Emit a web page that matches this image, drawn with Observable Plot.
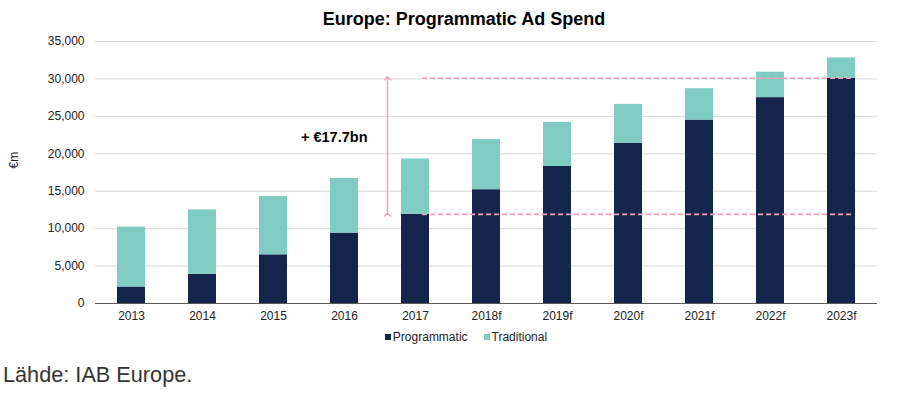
<!DOCTYPE html>
<html>
<head>
<meta charset="utf-8">
<script src="https://cdn.jsdelivr.net/npm/d3@7"></script>
<script src="https://cdn.jsdelivr.net/npm/@observablehq/plot@0.6"></script>
<style>
  body { margin: 0; background: #fff; font-family: "Liberation Sans", Arial, sans-serif; }
  #wrap { width: 900px; }
  .title { height: 30px; box-sizing: border-box; padding-top: 10px; padding-left: 28px; text-align: center;
           font-weight: bold; font-size: 18px; line-height: 19px; color: #000; }
  .legend { height: 14px; line-height: 14px; font-size: 12px; color: #222; text-align: center; padding-left: 32px; }
  .legend span.sw { display: inline-block; width: 6px; height: 6px; margin-right: 2px; vertical-align: 1px; }
  .legend span.item { margin: 0 8px; }
  .source { margin-top: 19px; padding-left: 3px; font-size: 21.7px; line-height: 24px; color: #333; }
</style>
</head>
<body>
<div id="wrap">
  <div class="title">Europe: Programmatic Ad Spend</div>
  <div id="chart"></div>
  <div class="legend" id="legend"></div>
  <div class="source">Lähde: IAB Europe.</div>
</div>
<script>
const years = ["2013", "2014", "2015", "2016", "2017", "2018f", "2019f", "2020f", "2021f", "2022f", "2023f"];
const programmatic = [2200, 3900, 6500, 9400, 11900, 15200, 18300, 21400, 24500, 27500, 30100];
const traditional = [8000, 8600, 7800, 7300, 7400, 6700, 5900, 5200, 4200, 3400, 2700];
const seriesNames = ["Programmatic", "Traditional"];
const seriesColors = ["#13254b", "#80ccc3"];
const yTicks = [0, 5000, 10000, 15000, 20000, 25000, 30000, 35000];
const annotationLabel = "+ €17.7bn";
const annotationFrom = "2017";
const annotationTo = "2023f";
const annotationTextY = 22200;

const rows = [];
years.forEach((year, i) => {
  rows.push({year, series: seriesNames[0], value: programmatic[i]});
  rows.push({year, series: seriesNames[1], value: traditional[i]});
});

const lowLevel = programmatic[years.indexOf(annotationFrom)];
const highLevel = programmatic[years.indexOf(annotationTo)];
const refLines = [lowLevel, highLevel].map(v => ({y: v, from: annotationFrom, to: annotationTo}));
const arrowData = [{x: annotationFrom, y1: lowLevel, y2: highLevel}];
const labelData = [{x: annotationFrom, y: annotationTextY, text: annotationLabel}];

const chart = Plot.plot({
  width: 900,
  height: 300,
  marginTop: 11,
  marginBottom: 27,
  marginLeft: 95,
  marginRight: 23,
  style: {fontFamily: "Liberation Sans, Arial, sans-serif", fontSize: "12px", color: "#222", background: "#fff"},
  x: {domain: years, paddingInner: 0.6, paddingOuter: 0.3, label: null},
  y: {domain: [0, 35000], label: null},
  color: {domain: seriesNames, range: seriesColors},
  marks: [
    Plot.gridY(yTicks, {stroke: "#d9d9d9", strokeOpacity: 1}),
    Plot.barY(rows, {x: "year", y: "value", fill: "series", order: seriesNames}),
    Plot.ruleY([0], {stroke: "#595959", strokeWidth: 1}),
    Plot.ruleY(refLines, {y: "y", x1: "from", x2: "to", stroke: "#f3a1b6", strokeWidth: 1.6,
      strokeDasharray: "5,3", insetLeft: 21, insetRight: 4}),
    Plot.link(arrowData, {x1: "x", x2: "x", y1: "y1", y2: "y2", dx: -28, stroke: "#f3a1b6",
      strokeWidth: 1.5, markerStart: "arrow", markerEnd: "arrow"}),
    Plot.text(labelData, {x: "x", y: "y", text: "text", textAnchor: "end", dx: -48,
      fontWeight: "bold", fontSize: 14.5, fill: "#000"}),
    Plot.axisY({ticks: yTicks, tickFormat: d3.format(","), tickSize: 0, tickPadding: 11, label: null}),
    Plot.axisX({tickSize: 0, tickPadding: 8, label: null}),
    Plot.text(["€m"], {frameAnchor: "left", dx: -81, dy: -4, rotate: -90, fontSize: 12, fill: "#222"})
  ]
});
document.getElementById("chart").appendChild(chart);

const legend = document.getElementById("legend");
seriesNames.forEach((name, i) => {
  const item = document.createElement("span");
  item.className = "item";
  const sw = document.createElement("span");
  sw.className = "sw";
  sw.style.background = seriesColors[i];
  item.appendChild(sw);
  item.appendChild(document.createTextNode(name));
  legend.appendChild(item);
});
</script>
</body>
</html>
